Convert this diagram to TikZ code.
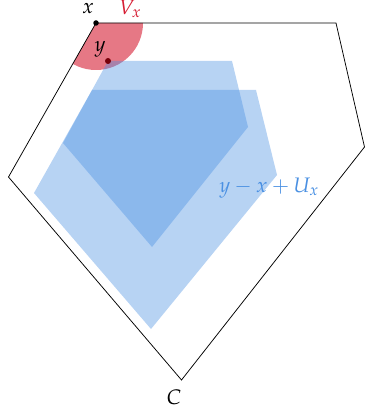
\documentclass[tikz,border=0pt]{standalone}
\usepackage{mathpazo}
\usepackage{xcolor}
\usetikzlibrary{positioning}

\definecolor{ublue}{RGB}{74,144,226}
\definecolor{vred}{RGB}{214,30,52}
\definecolor{ydark}{RGB}{120,0,10}

\begin{document}
\begin{tikzpicture}[
x=1pt, y=-1pt,
font=\fontsize{21pt}{25pt}\selectfont,
dot/.style={circle, fill, inner sep=0pt, minimum size=5.5pt},
blob/.style={fill=ublue, fill opacity=0.4},
lbl/.style={inner sep=1pt}
]
\useasboundingbox (0,0) rectangle (365,414);

% the set C
\coordinate (c1) at (96,23);
\coordinate (c2) at (336,23);
\coordinate (c3) at (364.5,147);
\coordinate (c4) at (181.5,380);
\coordinate (c5) at (8.5,177);

% neighbourhood V_x, cut to C
\begin{scope}
\clip (c1) -- (c2) -- (c3) -- (c4) -- (c5) -- cycle;
\fill[vred, opacity=0.6] (c1) circle (47pt);
\end{scope}

% the two copies of U_x
\fill[blob] (108,61) -- (232,61) -- (248,127) -- (152,247) -- (63,143) -- cycle;
\fill[blob] (92,90) -- (256,90) -- (277,175) -- (151,329) -- (34,193) -- cycle;

\draw[line width=0.75pt] (c1) -- (c2) -- (c3) -- (c4) -- (c5) -- cycle;

\node[dot] (x) at (c1) {};
\node[dot, ydark, minimum size=6pt] (y) at (108,61) {};

\node[lbl] (xlab) at (88,9) {$x$};
\node[lbl] (ylab) at (100,49) {$y$};
\node[lbl, vred] (vlab) at (130,9) {$V_x$};
\node[lbl, ublue] (ulab) at (269,188) {$y-x+U_x$};
\node[lbl] (clab) at (174,397) {$C$};
\end{tikzpicture}
\end{document}
